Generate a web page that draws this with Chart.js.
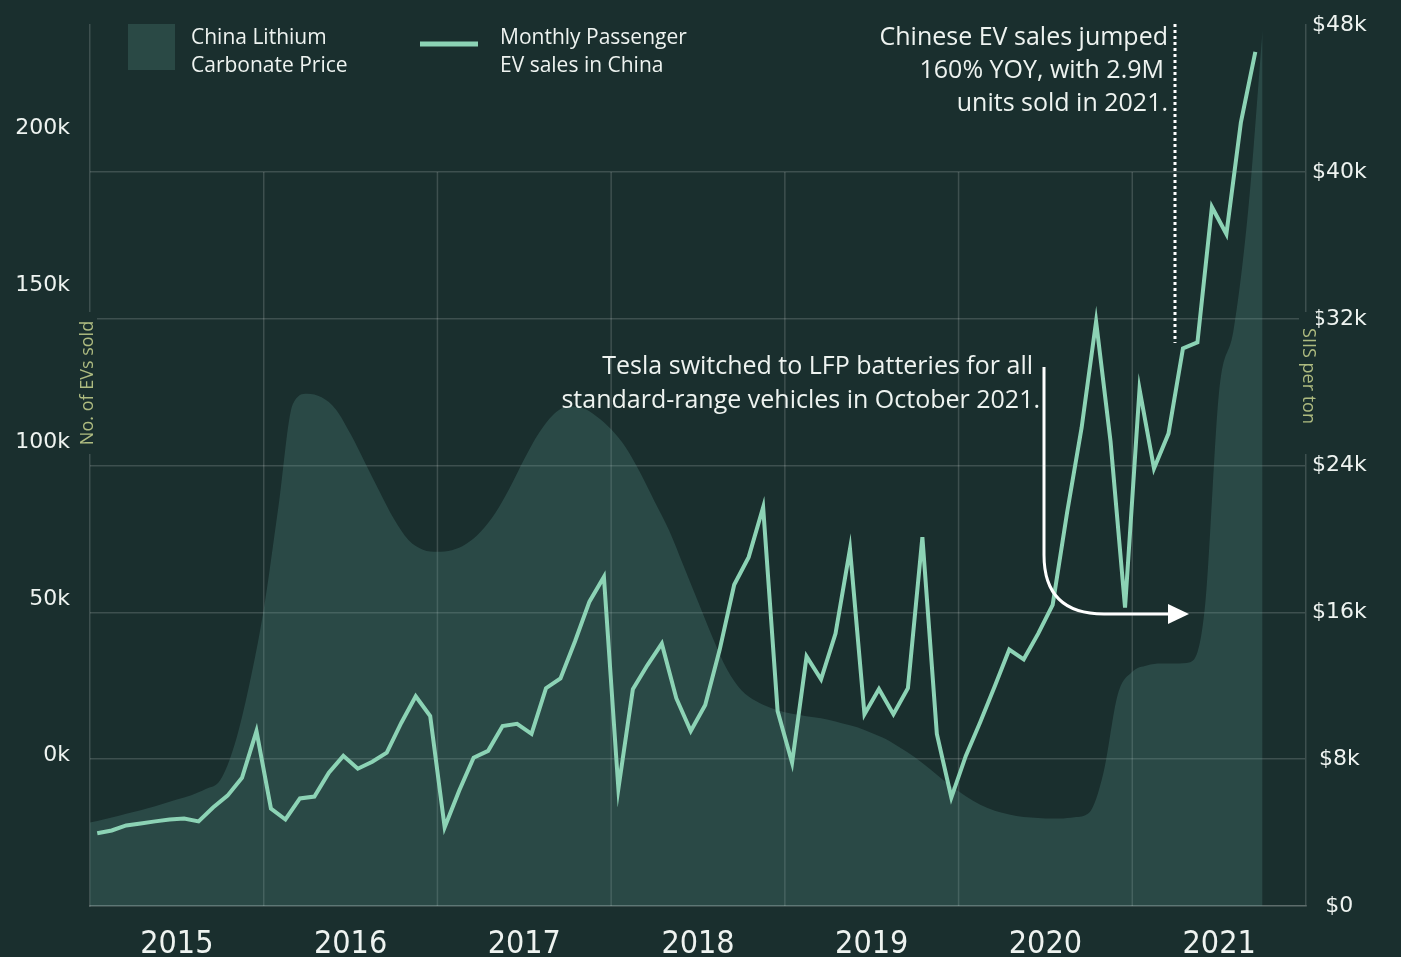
<!DOCTYPE html>
<html>
<head>
<meta charset="utf-8">
<title>Chinese EV sales vs lithium carbonate price</title>
<script src="https://cdn.jsdelivr.net/npm/chart.js@4.4.1/dist/chart.umd.min.js"></script>
<style>
  html, body { margin: 0; padding: 0; background: #1a2f2e; }
  #wrap { width: 1401px; height: 957px; }
</style>
</head>
<body>
<div id="wrap"><canvas id="evChart" width="1401" height="957"></canvas></div>
<script>
// month index 0 = Jan 2015
const years = ['2015', '2016', '2017', '2018', '2019', '2020', '2021'];

// Monthly passenger EV sales in China, Jan 2015 - Sep 2021 (read against the left axis)
const evSales = [
  -24800, -23900, -22300, -21700, -21000, -20400, -20100, -21000, -16600, -12800, -7100, 7800,
  -16900, -20400, -13700, -13100, -5500, -100, -4200, -2000, 900, 10400, 18900, 12600,
  -22900, -11200, -700, 1500, 9400, 10100, 6900, 21500, 24600, 36400, 49100, 57000,
  -10600, 21200, 28800, 35700, 18300, 7800, 16100, 33800, 54500, 63300, 79200, 14200,
  -2300, 31600, 24300, 38900, 65900, 13200, 21200, 13200, 21500, 69700, 6900, -13400,
  -100, 10700, 22100, 33800, 30700, 38900, 48100, 77600, 104600, 138500, 100100, 47200,
  116900, 91600, 102700, 129900, 131800, 175000, 166400, 201900, 224500
];

// China lithium carbonate price, $ per ton, start of each month Jan 2015 - Oct 2021
const lithiumPrice = [
  4550, 4730, 4920, 5120, 5330, 5560, 5800, 6040, 6370, 6860, 8830, 12050,
  16160, 21670, 27330, 27920, 27720, 27050, 25720, 24160, 22590, 21090, 19950, 19420,
  19300, 19390, 19740, 20410, 21420, 22790, 24360, 25760, 26770, 27220, 27150, 26680,
  25980, 25000, 23620, 22050, 20480, 18540, 16590, 14650, 12900, 11760, 11170, 10800,
  10560, 10410, 10280, 10150, 9950, 9740, 9430, 9090, 8610, 8090, 7480, 6830,
  6250, 5730, 5340, 5080, 4900, 4820, 4770, 4770, 4840, 5070, 7240, 11540,
  12770, 13110, 13220, 13220, 13290, 16170, 28070, 31420, 37870, 47730
];

const salesTicks = [0, 50000, 100000, 150000, 200000];
const priceTicks = [0, 8000, 16000, 24000, 32000, 40000, 48000];

const bg = '#1a2f2e';
const gridColor = 'rgba(255,255,255,0.16)';
const lineColor = '#8cd3b5';
const areaColor = 'rgba(95,160,150,0.23)';
const textColor = '#eef3f0';
const titleColor = '#aebb80';
const noteFont = '"Open Sans", "Noto Sans", sans-serif';

// sales are plotted mid-month, the price at the start of each month
const salesPoints = evSales.map((v, i) => ({ x: i + 0.5, y: v }));
const pricePoints = lithiumPrice.map((v, i) => ({ x: i, y: v }));

// vertical year lines, only below the $40k gridline
const yearLines = {
  id: 'yearLines',
  beforeDatasetsDraw(chart) {
    const { ctx, chartArea, scales: { x, yPrice } } = chart;
    const top = yPrice.getPixelForValue(priceTicks[priceTicks.length - 2]);
    ctx.save();
    ctx.strokeStyle = gridColor;
    ctx.lineWidth = 1.5;
    for (let i = 1; i < years.length; i++) {
      const px = x.getPixelForValue(i * 12);
      ctx.beginPath();
      ctx.moveTo(px, top);
      ctx.lineTo(px, chartArea.bottom);
      ctx.stroke();
    }
    ctx.restore();
  }
};

// legend, notes, arrow and axis titles
const notes = {
  id: 'notes',
  afterDraw(chart) {
    const ctx = chart.ctx;
    ctx.save();

    // legend
    ctx.fillStyle = '#2a4945';
    ctx.fillRect(128, 24, 47, 46);
    ctx.strokeStyle = lineColor;
    ctx.lineWidth = 5;
    ctx.beginPath();
    ctx.moveTo(420, 44);
    ctx.lineTo(478, 44);
    ctx.stroke();

    ctx.fillStyle = textColor;
    ctx.font = '21px ' + noteFont;
    ctx.textBaseline = 'middle';
    ctx.textAlign = 'left';
    ctx.fillText('China Lithium', 191, 38);
    ctx.fillText('Carbonate Price', 191, 66);
    ctx.fillText('Monthly Passenger', 500, 38);
    ctx.fillText('EV sales in China', 500, 66);

    // top note
    ctx.font = '25px ' + noteFont;
    ctx.textAlign = 'right';
    ctx.fillText('Chinese EV sales jumped', 1168, 38);
    ctx.fillText('160% YOY, with 2.9M', 1164, 71);
    ctx.fillText('units sold in 2021.', 1168, 104);

    ctx.strokeStyle = '#ffffff';
    ctx.lineWidth = 3;
    ctx.setLineDash([3, 3]);
    ctx.beginPath();
    ctx.moveTo(1175, 24);
    ctx.lineTo(1175, 343);
    ctx.stroke();
    ctx.setLineDash([]);

    // Tesla note
    ctx.fillText('Tesla switched to LFP batteries for all', 1033, 367);
    ctx.fillText('standard-range vehicles in October 2021.', 1040, 401);

    ctx.lineWidth = 3;
    ctx.beginPath();
    ctx.moveTo(1044, 367);
    ctx.lineTo(1044, 555);
    ctx.quadraticCurveTo(1044, 614, 1104, 614);
    ctx.lineTo(1172, 614);
    ctx.stroke();
    ctx.fillStyle = '#ffffff';
    ctx.beginPath();
    ctx.moveTo(1168, 604);
    ctx.lineTo(1189, 614);
    ctx.lineTo(1168, 624);
    ctx.closePath();
    ctx.fill();

    // axis titles sit over the plot border
    ctx.fillStyle = bg;
    ctx.fillRect(80, 312, 17, 142);
    ctx.fillRect(1299, 312, 17, 142);
    ctx.fillStyle = titleColor;
    ctx.font = '18px ' + noteFont;
    ctx.textAlign = 'center';

    ctx.save();
    ctx.translate(88, 383);
    ctx.rotate(-Math.PI / 2);
    ctx.fillText('No. of EVs sold', 0, 0);
    ctx.restore();

    ctx.save();
    ctx.translate(1308, 376);
    ctx.rotate(Math.PI / 2);
    ctx.fillText('SIIS per ton', 0, 0);
    ctx.restore();

    ctx.restore();
  }
};

const tickFont = { family: '"DejaVu Sans", sans-serif', size: 22 };

const ctx = document.getElementById('evChart').getContext('2d');
const evChart = new Chart(ctx, {
  type: 'line',
  data: {
    datasets: [
      {
        label: 'Monthly Passenger EV sales in China',
        data: salesPoints,
        yAxisID: 'ySales',
        borderColor: lineColor,
        borderWidth: 4,
        borderJoinStyle: 'miter',
        pointRadius: 0,
        tension: 0,
        fill: false,
        order: 1
      },
      {
        label: 'China Lithium Carbonate Price',
        data: pricePoints,
        yAxisID: 'yPrice',
        borderWidth: 0,
        borderColor: 'rgba(0,0,0,0)',
        backgroundColor: areaColor,
        pointRadius: 0,
        cubicInterpolationMode: 'monotone',
        fill: 'origin',
        order: 2
      }
    ]
  },
  options: {
    responsive: false,
    animation: false,
    events: [],
    layout: { padding: { top: 20 } },
    plugins: {
      legend: { display: false },
      tooltip: { enabled: false }
    },
    scales: {
      x: {
        type: 'linear',
        min: 0,
        max: 84,
        grid: { display: false },
        border: { display: true, color: gridColor, width: 1.5 },
        ticks: {
          autoSkip: false,
          maxRotation: 0,
          padding: 11,
          color: textColor,
          font: { family: '"Liberation Sans Narrow", "DejaVu Sans Condensed", sans-serif', size: 32 },
          callback: (v) => years[Math.round((v - 6) / 12)]
        },
        afterBuildTicks: (scale) => {
          scale.ticks = years.map((y, i) => ({ value: 6 + i * 12 }));
        },
        afterFit: (scale) => { scale.height = 51; }
      },
      ySales: {
        type: 'linear',
        position: 'left',
        min: -48000,
        max: 233000,
        grid: { display: false },
        border: { display: true, color: gridColor, width: 1.5 },
        ticks: {
          padding: 12,
          color: textColor,
          font: tickFont,
          callback: (v) => (v / 1000) + 'k'
        },
        afterBuildTicks: (scale) => {
          scale.ticks = salesTicks.map(v => ({ value: v }));
        },
        afterFit: (scale) => { scale.width = 90; }
      },
      yPrice: {
        type: 'linear',
        position: 'right',
        min: 0,
        max: 48000,
        grid: {
          drawTicks: false,
          lineWidth: 1.5,
          color: (c) => (c.tick && c.tick.value === 48000) ? 'rgba(0,0,0,0)' : gridColor
        },
        border: { display: true, color: gridColor, width: 1.5 },
        ticks: {
          padding: 6,
          crossAlign: 'center',
          color: textColor,
          font: tickFont,
          callback: (v) => v === 0 ? '$0' : '$' + (v / 1000) + 'k'
        },
        afterBuildTicks: (scale) => {
          scale.ticks = priceTicks.map(v => ({ value: v }));
        },
        afterFit: (scale) => { scale.width = 95; }
      }
    }
  },
  plugins: [yearLines, notes]
});
</script>
</body>
</html>
